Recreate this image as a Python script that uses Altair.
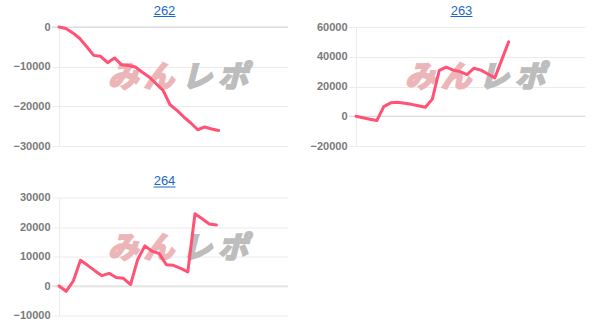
import altair as alt
import pandas as pd

# Machine numbers shown above each panel
machines = ["262", "263", "264"]

# Cumulative coin difference per game step, one list per machine
diff_262 = [0, -400, -1500, -2900, -5000, -7150, -7400, -9000, -7800, -9500,
            -9700, -10100, -11400, -12600, -14300, -16000, -19600, -21000,
            -22700, -24200, -25900, -25200, -25700, -26100]
diff_263 = [0, -1000, -2000, -2900, 6500, 9000, 9400, 8800, 8000, 7000,
            6000, 11500, 30800, 33000, 31000, 30000, 28000, 32300, 31000,
            28400, 25800, 37900, 50000]
diff_264 = [0, -1800, 1700, 8700, 7000, 5200, 3500, 4300, 2900, 2600,
            500, 9000, 13600, 11800, 11000, 7200, 7000, 6000, 4800, 24500,
            22800, 21000, 20700]

# Y axis ranges and tick labels per machine
y_ranges = [[-30000, 0], [-20000, 60000], [-10000, 30000]]
y_ticks = [[0, -10000, -20000, -30000],
           [60000, 40000, 20000, 0, -20000],
           [30000, 20000, 10000, 0, -10000]]
# Number of slots along the x axis per machine
x_slots = [33, 33, 32]

LINE = "#ff5275"
LINK = "#1a66cc"
GRID = "#ebebeb"
W = 229


def panel(name, values, y_range, ticks, slots, h):
    df = pd.DataFrame({"step": list(range(len(values))), "diff": values})
    x = alt.X("step:Q", scale=alt.Scale(domain=[0, slots], nice=False, zero=False), axis=None)
    y = alt.Y(
        "diff:Q",
        scale=alt.Scale(domain=y_range, nice=False, zero=False),
        axis=alt.Axis(
            values=ticks, title=None, grid=True, gridColor=GRID, gridWidth=1,
            domain=True, domainColor=GRID, ticks=True, tickColor=GRID, tickSize=7,
            labelPadding=2, labelFont="Liberation Sans", labelFontSize=11,
            labelFontWeight="bold", labelColor="#7a7a7a", format="d",
        ),
    )
    one = alt.Data(values=[{}])

    # faint logo behind the plot
    wm = []
    for ch, cx, col in [("み", 64, "#ecb6b9"), ("ん", 100, "#ecb6b9"),
                        ("レ", 138, "#bdbdbd"), ("ポ", 174, "#bdbdbd")]:
        wm.append(
            alt.Chart(one).mark_text(
                text=ch, font="Noto Sans CJK JP", fontSize=30, fontWeight="bold",
                fontStyle="italic", color=col, stroke=col, strokeWidth=2.2,
                align="center", baseline="middle",
            ).encode(x=alt.value(cx), y=alt.value(51))
        )

    zero = alt.Chart(pd.DataFrame({"diff": [0]})).mark_rule(
        color="#d6d6d6", strokeWidth=1
    ).encode(y=y, x=alt.value(-7), x2=alt.value(W))

    line = alt.Chart(df).mark_line(
        color=LINE, strokeWidth=3, strokeJoin="round", strokeCap="round"
    ).encode(x=x, y=y)

    title = alt.Chart(one).mark_text(
        text=name, font="Liberation Sans", fontSize=13, color=LINK,
        align="center", baseline="alphabetic",
    ).encode(x=alt.value(105.5), y=alt.value(-12.5))
    underline = alt.Chart(one).mark_rule(color=LINK, strokeWidth=1).encode(
        x=alt.value(94.5), x2=alt.value(116.5), y=alt.value(-10.5)
    )

    return alt.layer(*wm, zero, line, title, underline).properties(width=W, height=h)


p1 = panel(machines[0], diff_262, y_ranges[0], y_ticks[0], x_slots[0], 119)
p2 = panel(machines[1], diff_263, y_ranges[1], y_ticks[1], x_slots[1], 119)
p3 = panel(machines[2], diff_264, y_ranges[2], y_ticks[2], x_slots[2], 118)

chart = (
    alt.concat(p1, p2, p3, columns=2, spacing={"row": 51.5, "column": 68}, bounds="flush")
    .properties(padding={"left": 12, "top": 4, "right": 5, "bottom": 5}, background="white")
    .configure_view(stroke=None)
)

chart.save("out.html", embed_options={"renderer": "svg", "actions": False})
